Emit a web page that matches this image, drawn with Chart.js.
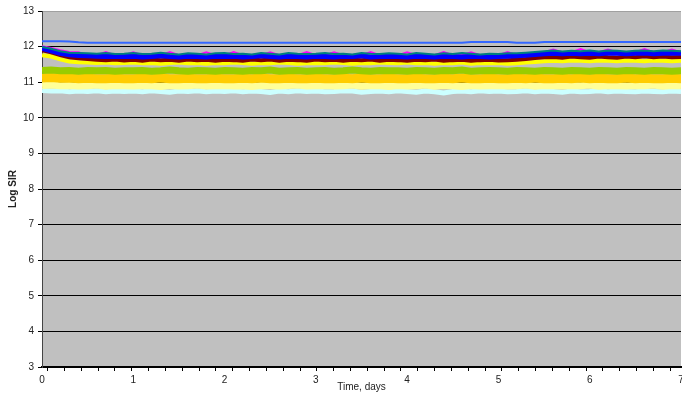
<!DOCTYPE html>
<html><head><meta charset="utf-8">
<script src="https://cdn.jsdelivr.net/npm/chart.js@4/dist/chart.umd.min.js"></script>
<style>html,body{margin:0;padding:0;background:#fff}</style>
</head><body>
<canvas id="c" width="682" height="396"></canvas>
<script>
// Time axis (days)
const timesDays = [0,0.1,0.2,0.3,0.4,0.5,0.6,0.7,0.8,0.9,
1.0,1.1,1.2,1.3,1.4,1.5,1.6,1.7,1.8,1.9,
2.0,2.1,2.2,2.3,2.4,2.5,2.6,2.7,2.8,2.9,
3.0,3.1,3.2,3.3,3.4,3.5,3.6,3.7,3.8,3.9,
4.0,4.1,4.2,4.3,4.4,4.5,4.6,4.7,4.8,4.9,
5.0,5.1,5.2,5.3,5.4,5.5,5.6,5.7,5.8,5.9,
6.0,6.1,6.2,6.3,6.4,6.5,6.6,6.7,6.8,6.9,7.0];

const yTicks = [3,4,5,6,7,8,9,10,11,12,13];
const xTicks = [0,1,2,3,4,5,6,7];

const seriesBlueTop = [12.15,12.15,12.15,12.14,12.12,12.11,12.11,12.11,12.11,12.11,
12.11,12.11,12.11,12.11,12.11,12.11,12.11,12.11,12.11,12.11,
12.11,12.11,12.11,12.11,12.11,12.11,12.11,12.11,12.11,12.11,
12.11,12.11,12.11,12.11,12.11,12.11,12.11,12.11,12.11,12.11,
12.11,12.11,12.11,12.11,12.11,12.11,12.11,12.13,12.13,12.13,
12.13,12.13,12.11,12.11,12.11,12.13,12.13,12.13,12.13,12.13,
12.13,12.13,12.13,12.13,12.13,12.13,12.13,12.13,12.13,12.13,12.13];

const seriesMagenta = [12.01,11.96,11.90,11.85,11.84,11.76,11.76,11.85,11.76,11.76,
11.84,11.76,11.76,11.76,11.85,11.76,11.76,11.76,11.84,11.76,
11.76,11.85,11.76,11.76,11.76,11.84,11.76,11.76,11.76,11.85,
11.76,11.76,11.84,11.76,11.76,11.76,11.85,11.76,11.76,11.76,
11.84,11.76,11.76,11.76,11.85,11.76,11.76,11.84,11.76,11.76,
11.76,11.85,11.76,11.78,11.81,11.84,11.92,11.84,11.84,11.93,
11.84,11.84,11.92,11.84,11.84,11.84,11.93,11.84,11.84,11.92,11.84];

const seriesTeal = [11.99,11.94,11.87,11.83,11.82,11.81,11.80,11.82,11.79,11.80,
11.82,11.79,11.80,11.83,11.80,11.78,11.81,11.80,11.78,11.81,
11.82,11.79,11.80,11.78,11.82,11.80,11.78,11.82,11.80,11.79,
11.80,11.82,11.79,11.80,11.78,11.82,11.80,11.79,11.81,11.80,
11.78,11.82,11.80,11.78,11.81,11.79,11.82,11.80,11.78,11.80,
11.79,11.81,11.81,11.83,11.85,11.87,11.89,11.86,11.88,11.87,
11.89,11.86,11.89,11.88,11.86,11.88,11.89,11.87,11.89,11.88,11.87];

const seriesBlue = [11.95,11.88,11.81,11.77,11.75,11.74,11.73,11.72,11.73,11.72,
11.73,11.71,11.72,11.74,11.72,11.71,11.73,11.72,11.71,11.73,
11.72,11.73,11.71,11.72,11.74,11.72,11.71,11.73,11.72,11.71,
11.73,11.72,11.71,11.73,11.72,11.74,11.71,11.72,11.73,11.72,
11.71,11.73,11.72,11.71,11.73,11.72,11.71,11.73,11.72,11.71,
11.72,11.73,11.74,11.76,11.78,11.80,11.81,11.80,11.81,11.80,
11.81,11.80,11.82,11.81,11.80,11.81,11.82,11.80,11.81,11.82,11.81];

const seriesDarkRed = [11.90,11.84,11.76,11.70,11.67,11.65,11.63,11.62,11.64,11.61,
11.63,11.60,11.64,11.62,11.63,11.60,11.64,11.62,11.63,11.60,
11.63,11.62,11.60,11.64,11.62,11.64,11.60,11.63,11.62,11.60,
11.64,11.62,11.63,11.60,11.63,11.62,11.64,11.60,11.63,11.62,
11.60,11.63,11.62,11.64,11.60,11.62,11.63,11.60,11.62,11.63,
11.61,11.62,11.63,11.65,11.68,11.70,11.71,11.69,11.72,11.70,
11.69,11.72,11.70,11.69,11.72,11.70,11.73,11.70,11.72,11.70,11.71];

const seriesYellow = [11.76,11.72,11.64,11.58,11.56,11.55,11.54,11.55,11.53,11.54,
11.55,11.53,11.54,11.52,11.54,11.55,11.53,11.54,11.52,11.54,
11.53,11.55,11.54,11.52,11.54,11.53,11.55,11.54,11.52,11.53,
11.54,11.53,11.55,11.54,11.52,11.54,11.53,11.55,11.54,11.53,
11.55,11.53,11.54,11.52,11.54,11.53,11.55,11.52,11.54,11.53,
11.54,11.52,11.53,11.55,11.57,11.59,11.60,11.59,11.61,11.60,
11.59,11.61,11.60,11.59,11.61,11.60,11.59,11.61,11.60,11.59,11.60];

const seriesGreen = [11.33,11.34,11.32,11.33,11.31,11.33,11.32,11.33,11.31,11.32,
11.32,11.33,11.31,11.32,11.34,11.32,11.31,11.33,11.32,11.31,
11.33,11.32,11.31,11.33,11.32,11.34,11.31,11.32,11.33,11.31,
11.32,11.33,11.31,11.32,11.34,11.32,11.31,11.33,11.32,11.32,
11.31,11.33,11.32,11.31,11.33,11.32,11.34,11.31,11.32,11.33,
11.32,11.31,11.33,11.32,11.31,11.33,11.32,11.31,11.33,11.32,
11.31,11.33,11.32,11.31,11.33,11.32,11.31,11.33,11.32,11.31,11.32];

const seriesOrange = [11.12,11.13,11.11,11.12,11.10,11.11,11.10,11.10,11.11,11.10,
11.10,11.11,11.10,11.12,11.10,11.10,11.11,11.10,11.10,11.11,
11.10,11.10,11.11,11.10,11.12,11.10,11.10,11.11,11.10,11.10,
11.11,11.10,11.10,11.11,11.10,11.12,11.10,11.10,11.11,11.10,
11.10,11.11,11.10,11.10,11.11,11.10,11.12,11.10,11.10,11.11,
11.10,11.10,11.11,11.10,11.12,11.10,11.10,11.11,11.10,11.12,
11.10,11.11,11.10,11.10,11.12,11.10,11.11,11.10,11.10,11.11,11.10];

const seriesLightYellow = [10.91,10.92,10.90,10.91,10.89,10.90,10.92,10.89,10.91,10.90,
10.89,10.91,10.90,10.88,10.91,10.89,10.90,10.92,10.89,10.90,
10.91,10.89,10.90,10.88,10.91,10.90,10.89,10.91,10.92,10.89,
10.90,10.91,10.89,10.90,10.92,10.89,10.91,10.90,10.88,10.91,
10.89,10.90,10.92,10.89,10.91,10.90,10.88,10.91,10.89,10.90,
10.91,10.89,10.90,10.92,10.89,10.91,10.90,10.89,10.91,10.90,
10.92,10.89,10.91,10.90,10.89,10.91,10.90,10.92,10.89,10.91,10.90];

const seriesCyan = [10.77,10.75,10.76,10.73,10.75,10.74,10.76,10.73,10.75,10.74,
10.75,10.73,10.76,10.74,10.72,10.75,10.74,10.76,10.73,10.75,
10.74,10.76,10.73,10.75,10.74,10.71,10.75,10.73,10.76,10.74,
10.75,10.73,10.74,10.76,10.75,10.72,10.74,10.75,10.73,10.76,
10.74,10.72,10.75,10.73,10.70,10.74,10.75,10.73,10.76,10.74,
10.75,10.73,10.74,10.76,10.73,10.75,10.74,10.72,10.75,10.73,
10.74,10.76,10.73,10.75,10.74,10.73,10.75,10.74,10.73,10.75,10.74];

function pts(arr){ return timesDays.map((t,i)=>({x:t, y:arr[i]})); }
function ds(label, arr, color, width){
  return {label, data: pts(arr), borderColor: color, backgroundColor: color,
    borderWidth: width, pointRadius: 0, tension: 0, fill: false};
}

const plotBg = {
  id: 'plotBg',
  beforeDraw(chart){
    const {ctx, chartArea: a} = chart;
    ctx.save();
    ctx.fillStyle = '#C0C0C0';
    ctx.fillRect(a.left, a.top, a.right - a.left, a.bottom - a.top);
    ctx.restore();
  }
};

const FONT = {family: '"Liberation Sans", Arial, sans-serif', size: 10};

new Chart(document.getElementById('c'), {
  type: 'line',
  data: {
    datasets: [
      ds('S1', seriesBlueTop, '#3366FF', 2),
      ds('S2', seriesTeal, '#008080', 2),
      ds('S3', seriesBlue, '#0000FF', 5),
      ds('S4', seriesMagenta, '#FF00FF', 2),
      ds('S5', seriesDarkRed, '#800000', 4),
      ds('S6', seriesYellow, '#FFFF00', 4),
      ds('S7', seriesGreen, '#99CC00', 7),
      ds('S8', seriesOrange, '#FFCC00', 9),
      ds('S9', seriesLightYellow, '#FFFF99', 7),
      ds('S10', seriesCyan, '#CCFFFF', 5)
    ]
  },
  options: {
    responsive: false,
    animation: false,
    layout: {padding: {top: 11, right: 1, left: 0, bottom: 0}},
    plugins: {legend: {display: false}, tooltip: {enabled: false}},
    scales: {
      x: {
        type: 'linear', min: 0, max: 7, position: 'bottom',
        afterFit: s => { s.height = 29; s.paddingRight = 0; s.paddingLeft = 0; },
        afterBuildTicks: s => {
          const t = xTicks.map(v => ({value: v}));
          for (let v = 0.062; v < 7; v += 0.1843) t.push({value: v});
          t.sort((a, b) => a.value - b.value);
          s.ticks = t;
        },
        ticks: {
          autoSkip: false, maxRotation: 0, padding: 3, color: '#222', font: FONT,
          callback: v => (xTicks.includes(v) ? String(v) : '')
        },
        grid: {
          drawOnChartArea: false, tickLength: 4, tickWidth: 1,
          tickColor: c => (c.tick && xTicks.includes(c.tick.value)) ? 'rgba(0,0,0,0)' : '#000'
        },
        border: {color: '#000', width: 2},
        title: {display: true, text: 'Time, days', color: '#222', font: FONT, padding: {top: 0, bottom: 3}}
      },
      y: {
        min: 3, max: 13,
        afterFit: s => { s.width = 42; },
        afterBuildTicks: s => { s.ticks = yTicks.map(v => ({value: v})); },
        ticks: {color: '#222', font: FONT, padding: 4},
        grid: {
          color: c => (c.tick && c.tick.value === 13) ? '#A0A0A0' : '#000',
          lineWidth: 1, tickLength: 4, tickColor: '#000'
        },
        border: {color: '#444', width: 1},
        title: {display: true, text: 'Log SIR', color: '#222',
          font: {family: FONT.family, size: 10, weight: 'bold'}, padding: {top: 7, bottom: 0}}
      }
    }
  },
  plugins: [plotBg]
});
</script>
</body></html>
